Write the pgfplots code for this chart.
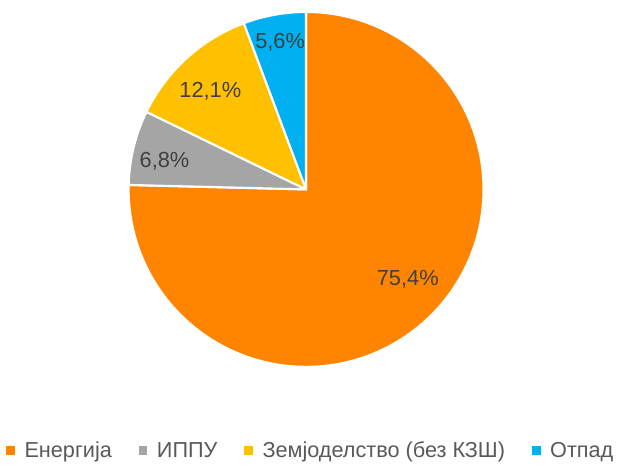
\documentclass[border=0pt]{standalone}
\usepackage{fontspec}
\setmainfont{Liberation Sans}
\usepackage{pgfplots}
\pgfplotsset{compat=1.18}

\definecolor{cEn}{RGB}{255,133,0}
\definecolor{cIp}{RGB}{165,165,165}
\definecolor{cZe}{RGB}{255,192,0}
\definecolor{cOt}{RGB}{0,176,240}
\definecolor{lbl}{RGB}{64,64,64}
\definecolor{leg}{RGB}{89,89,89}

% pie centre (307,274) in pixel units, radius 178px = 133.5pt
\newcommand{\slice}[3]{%
  \fill[#1, draw=white, line width=1.6pt, line join=round]
    (axis cs:307,274) -- ++({#2}:133.5pt)
    arc[start angle={#2}, end angle={#3}, radius=133.5pt] -- cycle;}

\begin{document}
\begin{tikzpicture}
\begin{axis}[
  x=0.75pt, y=0.75pt,
  xmin=0, xmax=620, ymin=0, ymax=464,
  hide axis, clip=false,
  legend columns=4,
  legend style={draw=none, fill=none, at={(axis cs:312,12)}, anchor=center,
    font=\fontsize{16.3pt}{18pt}\selectfont, text=leg,
    /tikz/every odd column/.append style={column sep=5.5pt},
    /tikz/every even column/.append style={column sep=18pt}},
  legend image code/.code={\fill[#1] (0pt,-3pt) rectangle (6pt,3pt);},
]
\path (axis cs:0,0) rectangle (axis cs:620,464);
% values: 75.4, 6.8, 12.1, 5.6 (percent), clockwise from 12 o'clock
\slice{cEn}{90}{90-3.6*75.4}
\slice{cIp}{90-3.6*75.4}{90-3.6*(75.4+6.8)}
\slice{cZe}{90-3.6*(75.4+6.8)}{90-3.6*(75.4+6.8+12.1)}
\slice{cOt}{90-3.6*(75.4+6.8+12.1)}{-270}
\draw[white, line width=1.6pt] (axis cs:307,274) -- ++(90:133.5pt);

\begin{scope}[every node/.style={font=\fontsize{16.4pt}{19pt}\selectfont, text=lbl}]
\node at (axis cs:409,184) {75,4\%};
\node at (axis cs:165,302) {6,8\%};
\node at (axis cs:211,372) {12,1\%};
\node at (axis cs:281,422) {5,6\%};
\end{scope}

\addlegendimage{cEn}\addlegendentry{Енергија}
\addlegendimage{cIp}\addlegendentry{ИППУ}
\addlegendimage{cZe}\addlegendentry{Земјоделство (без КЗШ)}
\addlegendimage{cOt}\addlegendentry{Отпад}
\end{axis}
\end{tikzpicture}
\end{document}
